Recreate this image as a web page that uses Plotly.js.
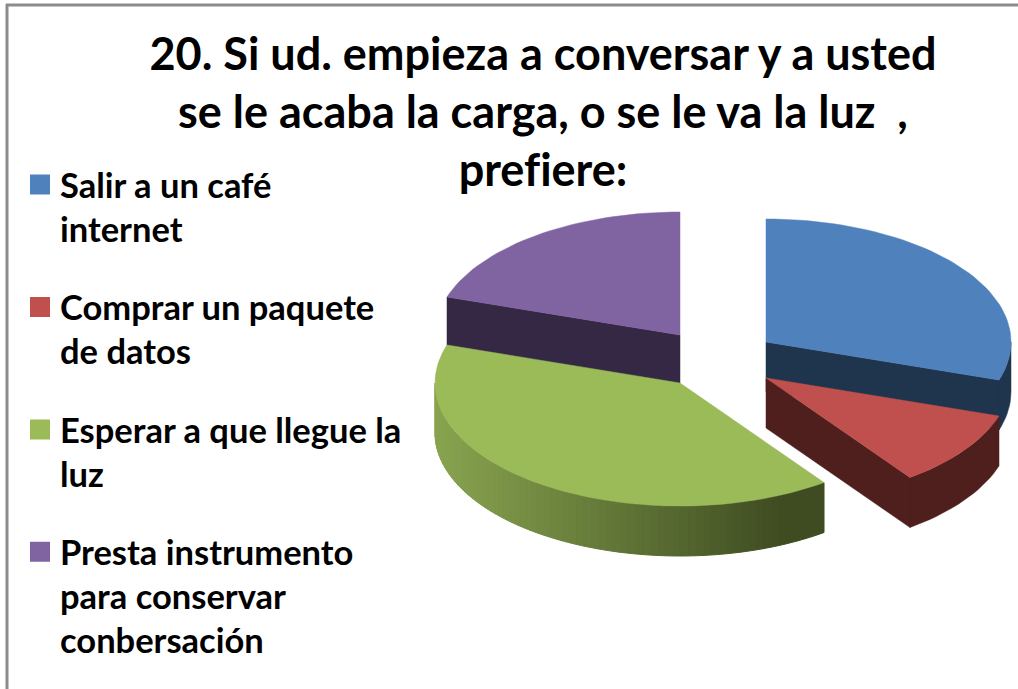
<!DOCTYPE html>
<html>
<head>
<meta charset="utf-8">
<script src="https://cdn.plot.ly/plotly-3.0.1.min.js"></script>
<style>html,body{margin:0;padding:0;background:#fff}#c{width:1018px;height:689px}svg text{font-feature-settings:"liga" 0,"clig" 0 !important}</style>
</head>
<body>
<div id="c"></div>
<script>
const categories = ["Salir a un café<br>internet", "Comprar un paquete<br>de datos", "Esperar a que llegue la<br>luz", "Presta instrumento<br>para conservar<br>conbersación"];
const values = [30, 10, 40, 20];
const topColors = ["#4f81bd", "#c0504d", "#9bbb59", "#8064a2"];
const wallColors = ["#1f344d", "#4f1f1e", null, "#352845"];
const centersX = [766, 766, 680, 680];
const centersY = [342, 378, 383, 335];
const titleLines = ["20. Si ud. empieza a conversar y a usted", "se le acaba la carga, o se le va la luz \u00a0,", "prefiere:"];
const RX = 245, RY = 123, DEPTH = 50;
const FONT = "Lato, 'Open Sans', sans-serif";

const total = values.reduce((a, b) => a + b, 0);
let acc = 0;
const slices = values.map((v, i) => {
  const s = acc / total * 360; acc += v; const e = acc / total * 360;
  return {i, s, e};
});
const pt = (i, deg, dz) => {
  const t = deg * Math.PI / 180;
  return [centersX[i] + RX * Math.sin(t), centersY[i] - RY * Math.cos(t) + (dz || 0)];
};
const arc = (i, a, b, dz) => {
  const out = [], n = Math.max(2, Math.ceil(Math.abs(b - a) / 2));
  for (let k = 0; k <= n; k++) out.push(pt(i, a + (b - a) * k / n, dz));
  return out;
};
const poly = (pts, color, lw) => ({
  type: "scatter", mode: "lines", x: pts.map(p => p[0]).concat(pts[0][0]), y: pts.map(p => p[1]).concat(pts[0][1]),
  fill: "toself", fillcolor: color, line: {color: color, width: lw || 0.5},
  hoverinfo: "skip", showlegend: false
});
const band = (i, a, b, color, lw) => poly(arc(i, a, b, 0).concat(arc(i, b, a, DEPTH)), color, lw);
const radialWall = (i, deg, color) => {
  const apex = [centersX[i], centersY[i]], rim = pt(i, deg, 0);
  return poly([apex, rim, [rim[0], rim[1] + DEPTH], [apex[0], apex[1] + DEPTH]], color);
};
const topFace = sl => poly([[centersX[sl.i], centersY[sl.i]]].concat(arc(sl.i, sl.s, sl.e, 0)), topColors[sl.i]);

const traces = [];
// blue
traces.push(radialWall(0, slices[0].e, wallColors[0]));
traces.push(band(0, 90, slices[0].e, wallColors[0]));
traces.push(topFace(slices[0]));
// red
traces.push(band(1, slices[1].s, slices[1].e, wallColors[1]));
traces.push(radialWall(1, slices[1].e, wallColors[1]));
traces.push(topFace(slices[1]));
// purple
traces.push(radialWall(3, slices[3].s, wallColors[3]));
traces.push(topFace(slices[3]));
// green, wall shaded from dark (front right) to light (left)
const gs = slices[2].s, ge = 270, steps = 70;
const dark = [63, 76, 33], light = [136, 164, 79];
for (let k = 0; k < steps; k++) {
  const a = gs + (ge - gs) * k / steps, b = gs + (ge - gs) * (k + 1) / steps;
  const x = pt(2, (a + b) / 2, 0)[0];
  const f = Math.min(1, Math.max(0, (780 - x) / (780 - 435)));
  const c = dark.map((d, j) => Math.round(d + (light[j] - d) * f));
  traces.push(band(2, a, b, `rgb(${c[0]},${c[1]},${c[2]})`, 1));
}
traces.push(topFace(slices[2]));

// legend entries
categories.forEach((name, i) => {
  traces.push({
    type: "scatter", mode: "markers", x: [null], y: [null],
    name: `<span style="font-size:34.5px">${name}</span>`, legendgroup: "g" + i,
    marker: {symbol: "square", size: 16, color: topColors[i], line: {color: topColors[i], width: 4}}, hoverinfo: "skip"
  });
});

const layout = {
  width: 1018, height: 689, margin: {l: 0, r: 0, t: 0, b: 0},
  paper_bgcolor: "#fff", plot_bgcolor: "#fff",
  xaxis: {range: [0, 1018], visible: false, fixedrange: true},
  yaxis: {range: [689, 0], visible: false, fixedrange: true},
  title: {
    text: titleLines.map(l => `<span style="font-size:45px">${l}</span>`).join("<br>"),
    x: 543 / 1018, xanchor: "center", y: 1 - 70 / 689, yanchor: "middle",
    font: {family: FONT, size: 44.6, color: "#000", weight: 700}
  },
  showlegend: true,
  legend: {
    x: 20 / 1018, y: 1 - 156 / 689, xanchor: "left", yanchor: "top", valign: "top",
    font: {family: FONT, size: 34, color: "#000", weight: 700},
    tracegroupgap: 31, itemsizing: "trace", itemwidth: 30, bgcolor: "rgba(0,0,0,0)",
    traceorder: "grouped"
  },
  shapes: [
    {type: "line", xref: "x", yref: "y", x0: 7, x1: 7, y0: 4, y1: 689, line: {color: "#8c8c8c", width: 3}},
    {type: "line", xref: "x", yref: "y", x0: 6, x1: 1018, y0: 5, y1: 5, line: {color: "#8c8c8c", width: 3}}
  ]
};
Plotly.newPlot("c", traces, layout, {displayModeBar: false, staticPlot: true});
</script>
</body>
</html>
